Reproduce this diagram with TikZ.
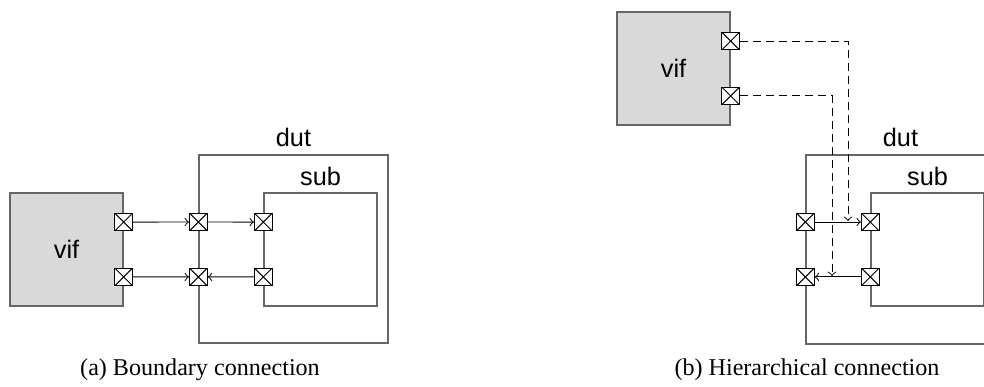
\documentclass[tikz,border=0pt]{standalone}
\usepackage{fontspec}
\setmainfont{Liberation Serif}
\setsansfont{Liberation Sans}
\usetikzlibrary{positioning}
\definecolor{edgegray}{rgb}{0.4,0.4,0.4}
\definecolor{viffill}{rgb}{0.85,0.85,0.85}

\begin{document}
\begin{tikzpicture}[x=0.415pt,y=-0.415pt,
  blk/.style={draw=edgegray,line width=0.55pt,inner sep=0pt},
  vifblk/.style={blk,fill=viffill,minimum width=46.9pt,minimum height=46.9pt,
    font=\sffamily\fontsize{10.5}{12}\selectfont},
  lbl/.style={font=\sffamily\fontsize{10.5}{12}\selectfont},
  port/.style={draw=black,fill=white,thin,inner sep=0pt,minimum size=7.4pt,
    path picture={\draw[thin] (path picture bounding box.north west) -- (path picture bounding box.south east)
      (path picture bounding box.north east) -- (path picture bounding box.south west);}},
  conn/.style={->,thin},
  tap/.style={->,thin,dash pattern=on 3.3pt off 2.1pt}]
\useasboundingbox (0,0) rectangle (984,387);
\clip (0,0) rectangle (984,387);

% (a) boundary connection
\node[vifblk] (vifA) at (66.5,249.5) {vif};
\node[blk,minimum width=78.4pt,minimum height=78pt] (dutA) at (293.5,249) {};
\node[blk,minimum width=46.9pt,minimum height=46.9pt] (subA) at (320.5,249.5) {};
\node[lbl] (dutAl) at (293.5,137) {dut};
\node[lbl] (subAl) at (320.5,176) {sub};

\node[port] (vA1) at ([yshift=11.4pt]vifA.east) {};
\node[port] (vA2) at ([yshift=-11.4pt]vifA.east) {};
\node[port] (dA1) at ([yshift=11.2pt]dutA.west) {};
\node[port] (dA2) at ([yshift=-11.6pt]dutA.west) {};
\node[port] (sA1) at ([yshift=11.4pt]subA.west) {};
\node[port] (sA2) at ([yshift=-11.4pt]subA.west) {};

\draw[conn] (vA1) -- (dA1);
\draw[conn] (dA1) -- (sA1);
\draw[conn] (vA2) -- (dA2);
\draw[conn] (sA2) -- (dA2);

\node (capA) at (200,370) {(a) Boundary connection};

% (b) hierarchical connection
\node[vifblk] (vifB) at (673.5,68.5) {vif};
\node[blk,minimum width=78.4pt,minimum height=78.4pt] (dutB) at (900.5,249.5) {};
\node[blk,minimum width=46.9pt,minimum height=46.9pt] (subB) at (927.5,249.5) {};
\node[lbl] (dutBl) at (900.5,137) {dut};
\node[lbl] (subBl) at (927.5,176) {sub};

\node[port] (vB1) at ([yshift=11.4pt]vifB.east) {};
\node[port] (vB2) at ([yshift=-11.4pt]vifB.east) {};
\node[port] (dB1) at ([yshift=11.4pt]dutB.west) {};
\node[port] (dB2) at ([yshift=-11.4pt]dutB.west) {};
\node[port] (sB1) at ([yshift=11.4pt]subB.west) {};
\node[port] (sB2) at ([yshift=-11.4pt]subB.west) {};

\draw[conn] (dB1) -- (sB1);
\draw[conn] (sB2) -- (dB2);

\coordinate (tapB1) at (848,221);
\coordinate (tapB2) at (832,276);
\draw[tap] (vB1) -| (tapB1);
\draw[tap] (vB2) -| (tapB2);

\node (capB) at (807,370) {(b) Hierarchical connection};
\end{tikzpicture}
\end{document}
